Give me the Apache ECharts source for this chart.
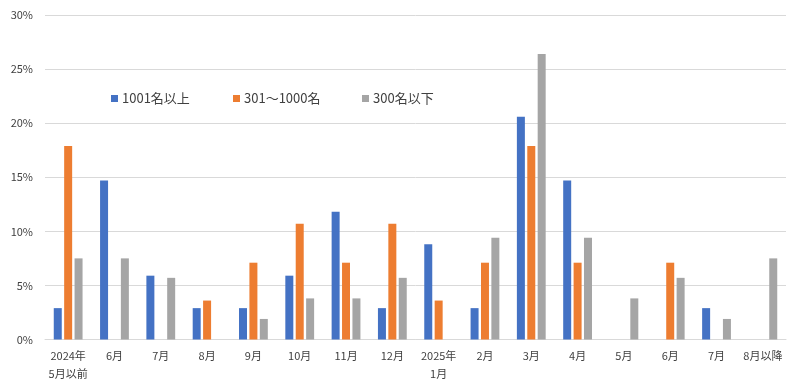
<!DOCTYPE html>
<html><head><meta charset="utf-8">
<script src="https://cdn.jsdelivr.net/npm/echarts@6/dist/echarts.min.js"></script>
<style>html,body{margin:0;padding:0;background:#fff}#c{width:800px;height:392px}</style>
</head><body><div id="c"></div>
<script>
const categories = ['2024年\n5月以前','6月','7月','8月','9月','10月','11月','12月','2025年\n1月','2月','3月','4月','5月','6月','7月','8月以降'];
const seriesNames = ['1001名以上','301～1000名','300名以下'];
const large = [2.9,14.7,5.9,2.9,2.9,5.9,11.8,2.9,8.8,2.9,20.6,14.7,0,0,2.9,0];
const medium = [17.9,0,0,3.6,7.1,10.7,7.1,10.7,3.6,7.1,17.9,7.1,0,7.1,0,0];
const small = [7.5,7.5,5.7,0,1.9,3.8,3.8,5.7,0,9.4,26.4,9.4,3.8,5.7,1.9,7.5];
const yTicks = [0,5,10,15,20,25,30];
const colors = ['#4472C4','#ED7D31','#A5A5A5'];
const font = '"Noto Sans CJK JP", "Noto Sans", sans-serif';
const chart = echarts.init(document.getElementById('c'));
const legendLefts = [106, 228, 357];
chart.setOption({
  animation:false,
  textStyle:{fontFamily:font},
  grid:{left:45,right:14,top:15,bottom:52.5},
  legend: seriesNames.map((n,i)=>({data:[n],left:legendLefts[i],top:87,icon:'rect',itemWidth:7,itemHeight:7,itemGap:5,
    textStyle:{fontSize:13,color:'#404040',fontFamily:font,padding:[0,0,0,-1]}})),
  xAxis:{type:'category',data:categories,
    axisLine:{lineStyle:{color:'#d9d9d9'}},axisTick:{show:false},
    axisLabel:{fontSize:11,color:'#404040',lineHeight:18,margin:7,interval:0,fontFamily:font}},
  yAxis:{type:'value',min:yTicks[0],max:yTicks[yTicks.length-1],interval:5,
    axisLine:{show:false},axisTick:{show:false},
    splitLine:{lineStyle:{color:'#d9d9d9'}},
    axisLabel:{formatter:'{value}%',fontSize:11,color:'#404040',margin:12,fontFamily:font}},
  series:[large,medium,small].map((d,i)=>({name:seriesNames[i],type:'bar',data:d,barWidth:8,barGap:'30%',
    itemStyle:{color:colors[i]}}))
});
</script></body></html>
